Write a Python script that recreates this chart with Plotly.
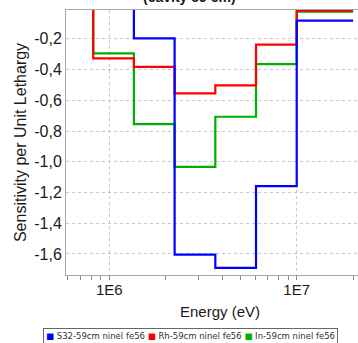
import plotly.graph_objects as go

# Energy group boundaries (eV), lethargy-spaced
energy_bounds = [4.979e5, 8.209e5, 1.353e6, 2.231e6, 3.679e6, 6.065e6, 1.0e7, 2.0e7]

series_names = ["S32-59cm ninel fe56", "Rh-59cm ninel fe56", "In-59cm ninel fe56"]
series_colors = ["#0000ff", "#ff0000", "#00b000"]

# sensitivity per group (values above the plotted range are clipped in the reference)
s32_values = [0.05, 0.05, -0.197, -1.604, -1.691, -1.159, -0.082]
rh_values = [0.05, -0.327, -0.382, -0.555, -0.503, -0.238, -0.016]
in_values = [0.05, -0.295, -0.755, -1.033, -0.707, -0.364, -0.023]

y_tick_vals = [-0.2, -0.4, -0.6, -0.8, -1.0, -1.2, -1.4, -1.6]
y_tick_text = ["-0,2", "-0,4", "-0,6", "-0,8", "-1,0", "-1,2", "-1,4", "-1,6"]
x_tick_vals = [1e6, 1e7]
x_tick_text = ["1E6", "1E7"]
x_minor_vals = [6e5, 7e5, 8e5, 9e5, 2e6, 3e6, 4e6, 5e6, 6e6, 7e6, 8e6, 9e6, 2e7]

title_text = "(cavity 59 cm)"
x_title = "Energy (eV)"
y_title = "Sensitivity per Unit Lethargy"

all_values = [s32_values, rh_values, in_values]

fig = go.Figure()
# draw green first, then red, then blue on top
for i in [2, 1, 0]:
    vals = all_values[i]
    fig.add_trace(go.Scatter(
        x=energy_bounds,
        y=vals + [vals[-1]],
        mode="lines",
        line=dict(shape="hv", color=series_colors[i], width=2.2),
        name=series_names[i],
        showlegend=False,
    ))

W, H = 358, 343
L, R, T, B = 66, 0, 10, 68
pw = W - L - R
ph = H - T - B

def px_x(p):
    return (p - L) / pw

def px_y(p):
    return (H - B - p) / ph

font_main = "Liberation Sans, Arial, sans-serif"
txt_col = "#1a1a1a"

fig.update_layout(
    width=W, height=H,
    margin=dict(l=L, r=R, t=T, b=B),
    paper_bgcolor="white",
    plot_bgcolor="white",
    font=dict(family=font_main, size=15, color=txt_col),
    xaxis=dict(
        type="log",
        range=[5.769, 7.327],
        tickvals=x_tick_vals,
        ticktext=x_tick_text,
        ticks="outside", ticklen=4, tickcolor="#888888",
        ticklabelstandoff=-3,
        showgrid=True, gridcolor="#c8c8c8", griddash="dot", gridwidth=1,
        showline=True, linecolor="#a8a8a8", linewidth=1, mirror=True,
        zeroline=False,
        tickfont=dict(size=15, color=txt_col),
        minor=dict(tickvals=x_minor_vals, ticks="outside", ticklen=4,
                   tickcolor="#888888", showgrid=False),
    ),
    yaxis=dict(
        range=[-1.737, -0.0124],
        tickvals=y_tick_vals,
        ticktext=y_tick_text,
        ticks="",
        showgrid=True, gridcolor="#c8c8c8", griddash="dot", gridwidth=1,
        showline=True, linecolor="#a8a8a8", linewidth=1, mirror=True,
        zeroline=False,
        tickfont=dict(size=16, color=txt_col),
        title=dict(text=y_title, font=dict(size=16, color=txt_col), standoff=3),
    ),
)

# partially visible chart title (cut off at the top)
fig.add_annotation(text="<b>" + title_text + "</b>", xref="paper", yref="paper",
                   x=px_x(189), y=1, xanchor="center", yanchor="bottom", yshift=3,
                   showarrow=False, font=dict(size=14, color=txt_col))

# x axis title
fig.add_annotation(text=x_title, xref="paper", yref="paper",
                   x=px_x(220), y=px_y(311.5), xanchor="center", yanchor="middle",
                   showarrow=False, font=dict(size=15, color=txt_col))

# legend strip built from series names/colors
parts = []
for name, col in zip(series_names, series_colors):
    parts.append("<span style='color:%s'>■</span> %s" % (col, name))
legend_text = " ".join(parts)
fig.add_annotation(text=legend_text, xref="paper", yref="paper",
                   x=px_x(190), y=px_y(336), xanchor="center", yanchor="middle",
                   showarrow=False, bordercolor="#666666", borderwidth=1, borderpad=2,
                   bgcolor="white",
                   font=dict(size=8.5, color="#333333", family="DejaVu Sans, sans-serif"))

fig.write_html("out.html")
